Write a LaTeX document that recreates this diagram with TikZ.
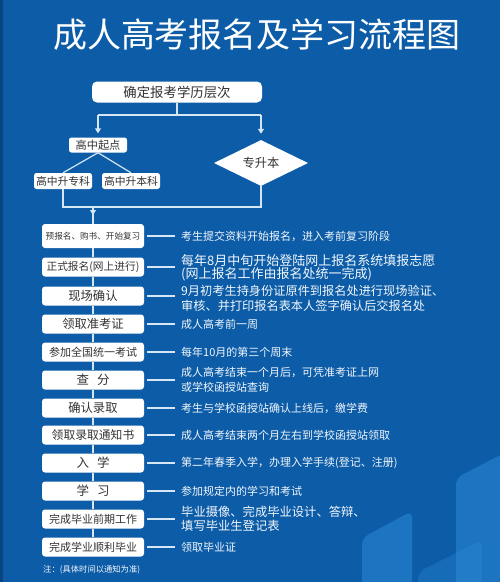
\documentclass[tikz,border=0pt]{standalone}
\usepackage{fontspec}
\setmainfont{Noto Sans CJK SC}
\usetikzlibrary{arrows.meta,shapes.geometric}
\definecolor{bg}{HTML}{0C5CA8}
\definecolor{ln}{HTML}{D6E6F5}
\definecolor{tx}{HTML}{333333}
\definecolor{deco}{HTML}{2C8AD6}
\definecolor{desccol}{HTML}{F2F7FC}
\newcommand{\fs}[1]{\fontsize{#1}{#1}\selectfont}
\begin{document}
\begin{tikzpicture}[x=1pt,y=-1pt,
  wbox/.style={fill=white,rounded corners=3pt,text=tx,minimum width=102pt,minimum height=19pt,inner sep=1pt,align=center,font=\fs{12.3}},
  sbox/.style={fill=white,rounded corners=2.5pt,text=tx,inner sep=1pt,minimum height=16pt,minimum width=58pt},
  desc/.style={anchor=west,text=desccol,align=left,inner sep=0pt,font=\fontsize{11}{15}\selectfont},
  conn/.style={draw=ln,line width=1.2pt},
  arr/.style={conn,-{Triangle[width=6pt,length=5pt]}},
  decoshape/.style={fill=deco,fill opacity=0.55,rounded corners=7pt}
]
\useasboundingbox (0,0) rectangle (500,582);
\fill[bg] (0,0) rectangle (500,582);
\fill[bg!75!black] (0,0) rectangle (3,582);
% decorative shapes
\fill[decoshape] (362,600) -- (362,538) -- (412,511) -- (412,600) -- cycle;
\fill[decoshape] (456,600) -- (456,478) -- (506,452) -- (506,600) -- cycle;
\fill[decoshape,fill opacity=0.35] (418,600) -- (418,572) -- (482,540) -- (482,600) -- cycle;

% title
\node[text=white,font=\fs{34}] (title) at (257,35) {成人高考报名及学习流程图};

% top part
\node[wbox,minimum width=170pt,minimum height=21pt,rounded corners=5pt,font=\fs{13.4}] (top) at (177,92) {确定报考学历层次};
\coordinate (j0) at (177,115);
\coordinate (jl) at (98,115);
\coordinate (jr) at (261,115);
\node[sbox,minimum height=15pt,font=\fs{11.2}] (gz) at (98,145) {高中起点};
\node[diamond,fill=white,text=tx,minimum width=94pt,minimum height=46pt,aspect=2,inner sep=0pt,font=\fs{12.3}] (zsb) at (261,163) {专升本};
\draw[conn] (top.south) -- (j0);
\draw[conn] (jl) -- (jr);
\draw[arr,shorten >=4pt] (jl) -- (gz.north);
\draw[arr,shorten >=6pt] (jr) -- (zsb.north);

\node[sbox,font=\fs{10.8}] (zk) at (63,181) {高中升专科};
\node[sbox,font=\fs{10.8}] (bk) at (131,181) {高中升本科};
\draw[conn] (gz.south) -- (zk.north);
\draw[conn] (gz.south) -- (bk.north);

\coordinate (kl) at (63,207);
\coordinate (kr) at (261,207);
\coordinate (km) at (93,207);
\coordinate (ka) at (93,215);
\draw[conn] (zk.south) -- (kl) -- (kr) -- (zsb.south);

% main column
\node[wbox,minimum height=24pt,font=\fs{8.6}] (b1) at (93,236) {预报名、购书、开始复习};
\node[wbox,font=\fs{10.7}] (b2) at (93,267) {正式报名(网上进行)};
\node[wbox] (b3) at (93,296) {现场确认};
\node[wbox] (b4) at (93,324) {领取准考证};
\node[wbox,font=\fs{11}] (b5) at (93,352) {参加全国统一考试};
\node[wbox,font=\fs{12.5}] (b6) at (93,380) {查\hspace{8pt}分};
\node[wbox] (b7) at (93,408) {确认录取};
\node[wbox,font=\fs{11.8}] (b8) at (93,435) {领取录取通知书};
\node[wbox,font=\fs{12.5}] (b9) at (93,463) {入\hspace{8pt}学};
\node[wbox,font=\fs{12.5}] (b10) at (93,491) {学\hspace{8pt}习};
\node[wbox,font=\fs{11}] (b11) at (93,519) {完成毕业前期工作};
\node[wbox,font=\fs{11}] (b12) at (93,547) {完成学业顺利毕业};

\draw[conn] (km) -- (b1.north);
\draw[arr] (km) -- (ka);
\foreach \a/\b in {b1/b2,b2/b3,b3/b4,b4/b5,b5/b6,b6/b7,b7/b8,b8/b9,b9/b10,b10/b11,b11/b12}
  \draw[conn] (\a.south) -- (\b.north);

% descriptions
\node[desc] (d1) at (181,236) {考生提交资料开始报名，进入考前复习阶段};
\node[desc,font=\fontsize{13}{13.5}\selectfont] (d2) at (181,268) {每年8月中旬开始登陆网上报名系统填报志愿\\(网上报名工作由报名处统一完成)};
\node[desc,font=\fontsize{12.2}{15}\selectfont] (d3) at (181,298) {9月初考生持身份证原件到报名处进行现场验证、\\审核、并打印报名表本人签字确认后交报名处};
\node[desc] (d4) at (181,324) {成人高考前一周};
\node[desc] (d5) at (181,352) {每年10月的第三个周末};
\node[desc] (d6) at (181,380) {成人高考结束一个月后，可凭准考证上网\\或学校函授站查询};
\node[desc] (d7) at (181,408) {考生与学校函授站确认上线后，缴学费};
\node[desc] (d8) at (181,435) {成人高考结束两个月左右到学校函授站领取};
\node[desc] (d9) at (181,463) {第二年春季入学，办理入学手续(登记、注册)};
\node[desc] (d10) at (181,491) {参加规定内的学习和考试};
\node[desc,font=\fontsize{12.3}{14}\selectfont] (d11) at (181,519) {毕业摄像、完成毕业设计、答辩、\\填写毕业生登记表};
\node[desc] (d12) at (181,547) {领取毕业证};

\foreach \i in {1,...,12}
  \draw[conn] ([xshift=3pt]b\i.east) -- ([xshift=-6pt]d\i.west |- b\i.east);

\node[anchor=west,text=desccol,inner sep=0pt,font=\fs{8.3}] (note) at (43,570) {注：(具体时间以通知为准)};
\end{tikzpicture}
\end{document}
